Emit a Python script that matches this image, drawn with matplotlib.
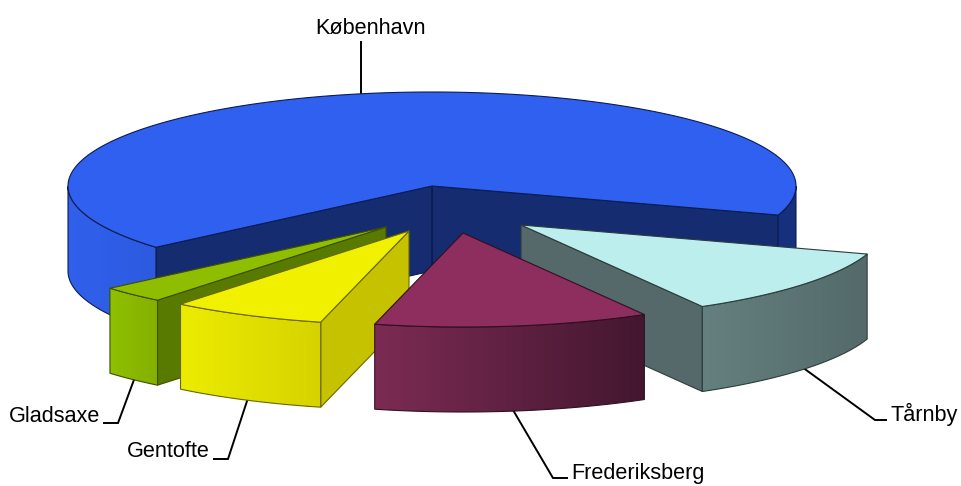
import numpy as np
import matplotlib
matplotlib.use('Agg')
import matplotlib.pyplot as plt
from matplotlib.colors import LinearSegmentedColormap
from matplotlib.patches import Polygon

plt.rcParams['font.family'] = ['Liberation Sans', 'DejaVu Sans']

# shares in percent, clockwise on screen from the right
names = ['Tårnby', 'Frederiksberg', 'Gentofte', 'Gladsaxe', 'København']
shares = [11.7, 12.2, 6.9, 2.9, 66.3]

# layout of the tilted pie
CX, CY = 432, 186
RX, RY = 364, 94
DEPTH = 85
START = 18
offsets = {'Tårnby': (89, 39), 'Frederiksberg': (31, 47), 'Gentofte': (-23, 45),
           'Gladsaxe': (-46, 41), 'København': (0, 0)}
top_col = {'Tårnby': '#bdeeee', 'Frederiksberg': '#8e2e5f', 'Gentofte': '#f0f000',
           'Gladsaxe': '#8fbd00', 'København': '#2f60f0'}
wall_col = {'Tårnby': '#55696a', 'Frederiksberg': '#5a2040', 'Gentofte': '#c6c200',
            'Gladsaxe': '#587a00', 'København': '#152c70'}
side_col = {'Tårnby': ('#64807f', '#546a6a'), 'Frederiksberg': ('#7c2b53', '#431730'),
            'Gentofte': ('#ecec00', '#d6d200'), 'Gladsaxe': ('#8fc000', '#84b000'),
            'København': ('#3060ec', '#17307c')}
edge_col = {'Tårnby': '#2c3c3c', 'Frederiksberg': '#300f22', 'Gentofte': '#6a6800',
            'Gladsaxe': '#3c5000', 'København': '#0c1c50'}
draw_order = ['København', 'Gladsaxe', 'Gentofte', 'Tårnby', 'Frederiksberg']

# leader lines and label anchors
leaders = {'København': [(361, 42), (361, 93)],
           'Gladsaxe': [(104, 423), (118, 423), (135, 377)],
           'Gentofte': [(214, 459), (228, 459), (248, 398)],
           'Tårnby': [(802, 367), (875, 420), (886, 420)],
           'Frederiksberg': [(513, 410), (553, 478), (567, 478)]}
label_pos = {'København': (371, 28), 'Gladsaxe': (55, 416), 'Gentofte': (168, 451),
             'Tårnby': (924, 414), 'Frederiksberg': (638, 473)}


def pt(cx, cy, t):
    return cx + RX * np.cos(np.radians(t)), cy + RY * np.sin(np.radians(t))


def wall_visible(cx, cy, t, t0, t1):
    # wall shows when the slice lies above its top edge on screen
    if t1 - t0 > 180:
        return True
    x, y = pt(0, 0, t)
    mx, my = pt(0, 0, (t0 + t1) / 2)
    return my < mx * y / x


fig = plt.figure(figsize=(9.62, 4.86), dpi=100)
ax = fig.add_axes([0, 0, 1, 1])
ax.set_xlim(0, 962)
ax.set_ylim(486, 0)
ax.axis('off')

bounds = START + np.cumsum([0] + shares) * 3.6
angles = {n: (bounds[i], bounds[i + 1]) for i, n in enumerate(names)}

for n, pts in leaders.items():
    ax.plot(*zip(*pts), color='black', lw=1.4, solid_joinstyle='miter', zorder=1)
    ax.text(*label_pos[n], n, fontsize=15.6, color='black', ha='center', va='center', zorder=5)

for i, n in enumerate(draw_order):
    z = 2 + i * 0.1
    t0, t1 = angles[n]
    cx, cy = CX + offsets[n][0], CY + offsets[n][1]
    ts = np.linspace(t0, t1, int((t1 - t0) * 2) + 2)
    xs, ys = pt(cx, cy, ts)
    edge = edge_col[n]

    # flat cut walls
    for t in (t0, t1):
        if wall_visible(cx, cy, t, t0, t1):
            x, y = pt(cx, cy, t)
            ax.add_patch(Polygon([(cx, cy), (x, y), (x, y + DEPTH), (cx, cy + DEPTH)],
                                 fc=wall_col[n], ec=edge, lw=0.8, zorder=z))
    if n == 'København':
        ax.plot([cx, cx], [cy, cy + DEPTH], color=edge, lw=0.8, zorder=z)

    # outer rim, shaded left to right, one clipped gradient per visible run
    front = np.sin(np.radians(ts)) >= 0
    xmin, xmax = xs[front].min(), xs[front].max()
    cmap = LinearSegmentedColormap.from_list(n, side_col[n])
    run = []
    for j in range(len(ts) + 1):
        if j < len(ts) and front[j]:
            run.append(j)
            continue
        if len(run) > 1:
            xr, yr = xs[run], ys[run]
            outline = list(zip(xr, yr)) + list(zip(xr[::-1], yr[::-1] + DEPTH))
            rim = Polygon(outline, closed=True, fc='none', ec=edge, lw=0.8, zorder=z + 0.01)
            ax.add_patch(rim)
            im = ax.imshow(np.linspace(0, 1, 256)[None, :], cmap=cmap, aspect='auto',
                           extent=(xmin, xmax, cy + RY + DEPTH, cy - RY), zorder=z)
            im.set_clip_path(rim)
        run = []
    ax.set_xlim(0, 962)
    ax.set_ylim(486, 0)

    # top face
    ax.add_patch(Polygon([(cx, cy)] + list(zip(xs, ys)), closed=True, fc=top_col[n],
                         ec=edge, lw=0.8, joinstyle='round', zorder=z + 0.02))

fig.savefig('out.png', dpi=100)
